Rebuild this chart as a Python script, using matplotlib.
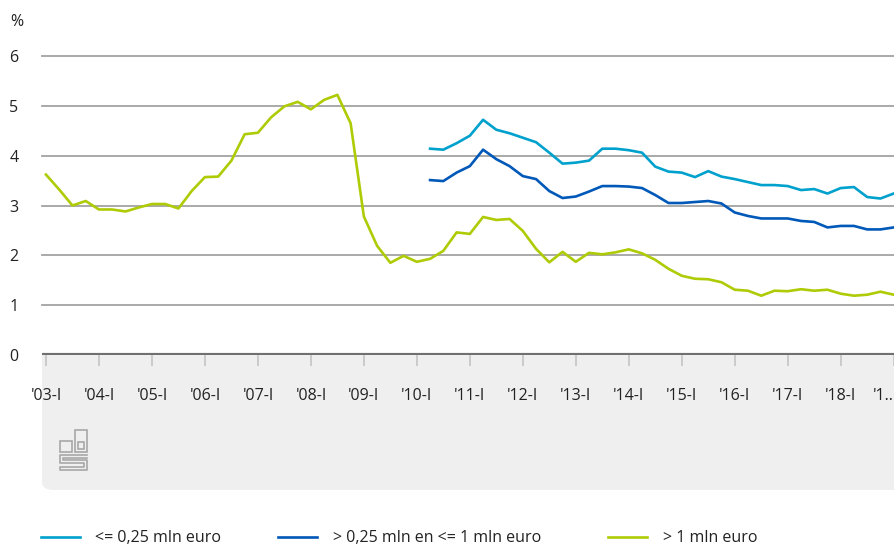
import numpy as np
import matplotlib.pyplot as plt
from matplotlib.patches import FancyBboxPatch, Rectangle
from matplotlib.lines import Line2D

plt.rcParams['font.family'] = ['Open Sans', 'DejaVu Sans']

# quarterly series, 2003-I .. 2019-I
gt_1mln = [3.62, 3.32, 3.00, 3.09, 2.92, 2.92, 2.88, 2.96, 3.03, 3.03,
           2.94, 3.29, 3.57, 3.58, 3.90, 4.43, 4.46, 4.77, 4.99, 5.08,
           4.93, 5.12, 5.22, 4.65, 2.78, 2.19, 1.85, 1.99, 1.87, 1.93,
           2.09, 2.46, 2.43, 2.77, 2.71, 2.73, 2.49, 2.13, 1.86, 2.07,
           1.87, 2.05, 2.02, 2.06, 2.12, 2.04, 1.91, 1.73, 1.59, 1.53,
           1.52, 1.46, 1.31, 1.29, 1.19, 1.29, 1.28, 1.32, 1.29, 1.31,
           1.23, 1.19, 1.21, 1.27, 1.21]
# from 2010-II onwards
le_025 = [4.14, 4.12, 4.25, 4.40, 4.72, 4.52, 4.45, 4.36, 4.27, 4.06,
          3.84, 3.86, 3.90, 4.14, 4.14, 4.11, 4.06, 3.78, 3.68, 3.66,
          3.57, 3.69, 3.58, 3.53, 3.47, 3.41, 3.41, 3.39, 3.31, 3.33,
          3.24, 3.35, 3.37, 3.17, 3.14, 3.24]
mid_025_1 = [3.51, 3.49, 3.66, 3.79, 4.12, 3.93, 3.79, 3.59, 3.53, 3.29,
             3.15, 3.18, 3.28, 3.39, 3.39, 3.38, 3.35, 3.21, 3.05, 3.05,
             3.07, 3.09, 3.04, 2.86, 2.79, 2.74, 2.74, 2.74, 2.69, 2.67,
             2.56, 2.59, 2.59, 2.52, 2.52, 2.56]
blue_start = 29

tick_labels = ["'03-I", "'04-I", "'05-I", "'06-I", "'07-I", "'08-I", "'09-I",
               "'10-I", "'11-I", "'12-I", "'13-I", "'14-I", "'15-I", "'16-I",
               "'17-I", "'18-I", "'1.."]

series = [("<= 0,25 mln euro", le_025, blue_start, "#00a1cd"),
          ("> 0,25 mln en <= 1 mln euro", mid_025_1, blue_start, "#0058b8"),
          ("> 1 mln euro", gt_1mln, 0, "#afcb05")]

W, H = 895, 545
def fx(x): return x / W
def fy(y): return 1 - y / H

FS = 11.5
TXT = "#222222"

fig = plt.figure(figsize=(8.95, 5.45), dpi=100)

# grey footer panel, rounded at the bottom-left
fig.add_artist(FancyBboxPatch((fx(42), fy(490)), fx(930) - fx(42), fy(355) - fy(490),
                              boxstyle="round,pad=0,rounding_size=0.014", transform=fig.transFigure,
                              facecolor="#efefef", edgecolor="none", zorder=0))
fig.add_artist(Rectangle((fx(42), fy(400)), fx(930) - fx(42), fy(355) - fy(400),
                         transform=fig.transFigure, facecolor="#efefef", edgecolor="none", zorder=0))

ax = fig.add_axes([fx(42), fy(355), fx(895) - fx(42), fy(56) - fy(355)])
ax.set_facecolor("none")
ax.set_xlim(-0.3, 64.1)
ax.set_ylim(0, 6)
for s in ax.spines.values():
    s.set_visible(False)

for yv in range(1, 7):
    ax.axhline(yv, color="#a3a3a3", lw=1.3, zorder=1, clip_on=False)
ax.axhline(0, color="#707070", lw=3, zorder=3)

for label, vals, start, col in series:
    xs = np.arange(start, start + len(vals))
    ax.plot(xs, vals, color=col, lw=1.9, zorder=4)

ax.set_yticks(range(0, 7))
ax.set_yticklabels([str(v) for v in range(0, 7)])
ax.tick_params(axis="y", length=0, pad=17, labelsize=FS, labelcolor=TXT)
ax.set_xticks(np.arange(0, 65, 4))
ax.set_xticklabels(tick_labels)
ax.tick_params(axis="x", direction="out", length=8, width=1.3, color="#c8c8c8",
               pad=16, labelsize=FS, labelcolor=TXT)
ax.get_xticklabels()[-1].set_horizontalalignment("right")

fig.text(fx(10), fy(22), "%", fontsize=FS, color=TXT, va="center", ha="left")

# cbs logo (rough outline)
lc = "#a8a8a8"
for (x0, y0, x1, y1) in [(60, 441, 72, 452), (75, 430, 87, 452), (78, 442, 84, 449)]:
    fig.add_artist(Rectangle((fx(x0), fy(y1)), fx(x1) - fx(x0), fy(y0) - fy(y1),
                             transform=fig.transFigure, fill=False, ec=lc, lw=1.2))
sx = [87, 60, 60, 84, 84, 60, 60, 87, 87, 63, 63, 87]
sy = [455, 455, 463, 463, 467, 467, 470, 470, 460, 460, 458, 458]
fig.add_artist(Line2D([fx(v) for v in sx], [fy(v) for v in sy], transform=fig.transFigure,
                      color=lc, lw=1.2))

# legend
leg_pos = [(41, 95), (278, 333), (608, 663)]
for (label, vals, start, col), (lx, tx) in zip(series, leg_pos):
    fig.add_artist(Line2D([fx(lx), fx(lx + 39)], [fy(537), fy(537)], transform=fig.transFigure,
                          color=col, lw=1.9))
    fig.text(fx(tx), fy(538), label, fontsize=FS, color=TXT, va="center", ha="left")

fig.savefig("out.png", dpi=100)
